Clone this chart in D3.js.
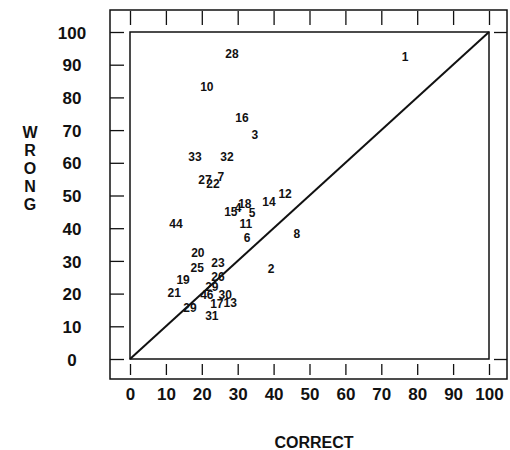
<!DOCTYPE html>
<html>
<head>
<meta charset="utf-8">
<script src="https://cdn.jsdelivr.net/npm/d3@7"></script>
<style>
  body { margin: 0; background: #fff; }
  svg text { font-family: "Liberation Sans", Arial, sans-serif; font-weight: bold; fill: #111; }
</style>
</head>
<body>
<svg width="510" height="450"></svg>
<script>
// point labels and their (correct, wrong) percentages
var labels  = ['1','28','10','16','3','33','32','27','7','22','18','4','15','5','14','12','11','6','8','44',
               '20','23','25','2','26','19','29','21','46','30','17','13','29','31'];
var correct = [76.6, 28.4, 21.4, 31.2, 34.8, 18.1, 27.0, 20.9, 25.3, 23.1, 32.0, 30.1, 28.1, 34.0, 38.7, 43.2, 32.3, 32.6, 46.5, 12.8,
               18.9, 24.5, 18.7, 39.3, 24.5, 14.8, 22.8, 12.3, 21.4, 26.5, 24.2, 27.9, 16.7, 22.8];
var wrong   = [92.4, 93.3, 83.2, 73.7, 68.5, 61.8, 61.8, 54.7, 55.7, 53.5, 47.4, 46.2, 45.0, 44.6, 48.0, 50.5, 41.3, 37.0, 38.2, 41.3,
               32.4, 29.4, 27.8, 27.5, 25.1, 24.2, 22.0, 20.2, 19.6, 19.6, 16.8, 17.1, 15.6, 13.1];
var tickVals = [0, 10, 20, 30, 40, 50, 60, 70, 80, 90, 100];

var svg = d3.select('svg');

var x = d3.scaleLinear().domain([0, 100]).range([130, 489]);
var y = d3.scaleLinear().domain([0, 100]).range([359, 32]);

// frames
svg.append('rect')
  .attr('x', 110).attr('y', 10).attr('width', 397).attr('height', 369)
  .attr('fill', 'none').attr('stroke', '#111').attr('stroke-width', 1.5);
svg.append('rect')
  .attr('x', x(0)).attr('y', y(100)).attr('width', x(100) - x(0)).attr('height', y(0) - y(100))
  .attr('fill', 'none').attr('stroke', '#111').attr('stroke-width', 1.5);

function clean(g) {
  g.select('.domain').remove();
  g.selectAll('.tick line').attr('stroke', '#111').attr('stroke-width', 1.3);
}

// top band ticks
svg.append('g').attr('transform', 'translate(0,11)')
  .call(d3.axisBottom(x).tickValues(tickVals).tickSize(14).tickFormat(''))
  .call(clean);
// bottom band ticks
svg.append('g').attr('transform', 'translate(0,364)')
  .call(d3.axisBottom(x).tickValues(tickVals).tickSize(11).tickFormat(''))
  .call(clean);
// left band ticks
svg.append('g').attr('transform', 'translate(124,0)')
  .call(d3.axisLeft(y).tickValues(tickVals).tickSize(14).tickFormat(''))
  .call(clean);
// right stubs at 0 and 100
svg.append('g').attr('transform', 'translate(494,0)')
  .call(d3.axisRight(y).tickValues([0, 100]).tickSize(13).tickFormat(''))
  .call(clean);

// x tick labels
var xl = svg.append('g').attr('transform', 'translate(0,388)')
  .call(d3.axisBottom(x).tickValues(tickVals).tickSize(0).tickPadding(0));
xl.select('.domain').remove();
xl.selectAll('text').attr('font-size', 17).attr('font-family', null).style('fill', '#111');

// y tick labels
var yl = svg.append('g').attr('transform', 'translate(72,0)')
  .call(d3.axisLeft(y).tickValues(tickVals).tickSize(0).tickPadding(0));
yl.select('.domain').remove();
yl.selectAll('text').attr('font-size', 17).attr('font-family', null)
  .attr('text-anchor', 'middle').attr('dy', '0.36em').style('fill', '#111');

// diagonal
svg.append('line')
  .attr('x1', x(0)).attr('y1', y(0)).attr('x2', x(100)).attr('y2', y(100))
  .attr('stroke', '#111').attr('stroke-width', 2);

// point labels
svg.append('g').selectAll('text')
  .data(labels)
  .enter()
  .append('text')
  .attr('x', function(d, i) { return x(correct[i]); })
  .attr('y', function(d, i) { return y(wrong[i]); })
  .attr('dy', '0.36em')
  .attr('text-anchor', 'middle')
  .attr('font-size', 12)
  .text(function(d) { return d; });

// axis titles
svg.append('text')
  .attr('x', 314).attr('y', 442).attr('dy', '0.36em')
  .attr('text-anchor', 'middle').attr('font-size', 16)
  .text('CORRECT');

svg.append('g').selectAll('text')
  .data('WRONG'.split(''))
  .enter()
  .append('text')
  .attr('x', 30)
  .attr('y', function(d, i) { return 132 + i * 18; })
  .attr('dy', '0.36em')
  .attr('text-anchor', 'middle')
  .attr('font-size', 16)
  .text(function(d) { return d; });
</script>
</body>
</html>
